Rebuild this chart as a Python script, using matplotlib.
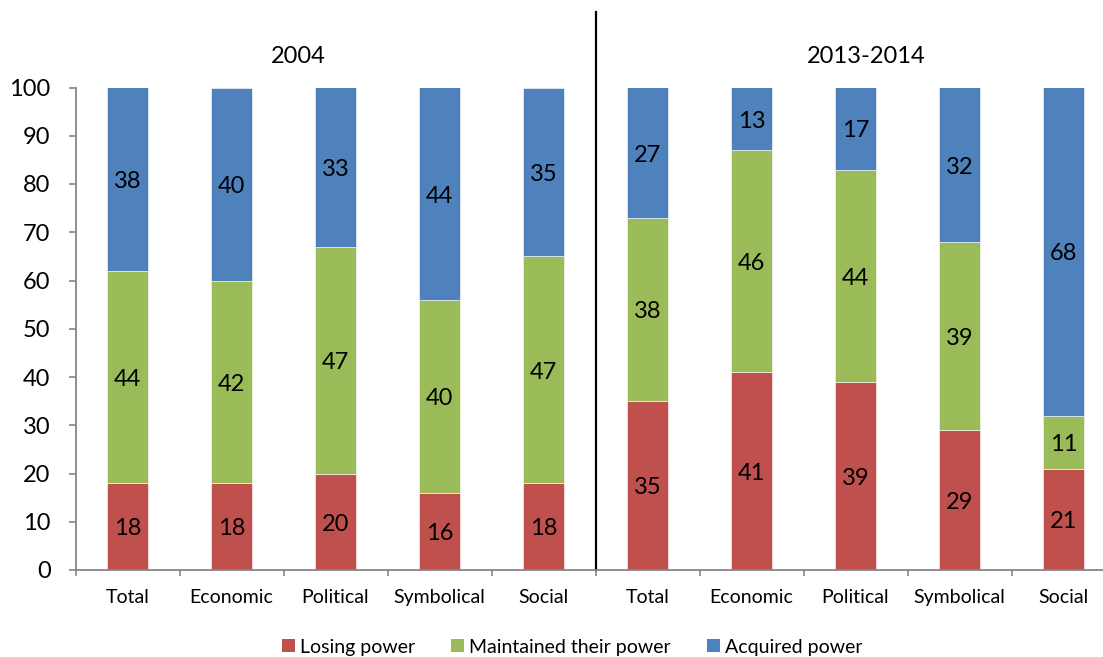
import matplotlib
matplotlib.use("Agg")
import matplotlib.pyplot as plt
from matplotlib.patches import Patch
import numpy as np

plt.rcParams['font.family'] = ['Lato', 'DejaVu Sans']

categories = ["Total", "Economic", "Political", "Symbolical", "Social",
              "Total", "Economic", "Political", "Symbolical", "Social"]
periods = ["2004", "2013-2014"]

losing = [18, 18, 20, 16, 18, 35, 41, 39, 29, 21]
maintained = [44, 42, 47, 40, 47, 38, 46, 44, 39, 11]
acquired = [38, 40, 33, 44, 35, 27, 13, 17, 32, 68]

series_names = ["Losing power", "Maintained their power", "Acquired power"]
colors = ["#C0504D", "#9BBB59", "#4F81BD"]

W, H = 1103, 657
fig = plt.figure(figsize=(W / 100, H / 100), dpi=100)
ax = fig.add_axes([75.5 / W, 1 - 570 / H, 1040 / W, 482.5 / H])

x = np.arange(len(categories))
bw = 0.395
bottom = np.zeros(len(categories))
for vals, col, name in zip([losing, maintained, acquired], colors, series_names):
    vals = np.array(vals)
    ax.bar(x, vals, bw, bottom=bottom, color=col, label=name,
           edgecolor="white", linewidth=0.4)
    for xi, b, v in zip(x, bottom, vals):
        ax.text(xi, b + v / 2 - 0.5, str(v), ha="center", va="center",
                fontsize=17, color="black")
    bottom += vals

ax.set_xlim(-0.5, len(categories) - 0.5)
ax.set_ylim(0, 100)
ax.set_yticks(np.arange(0, 101, 10))

# group boundaries carry the tick marks, category names sit on minor ticks
ax.set_xticks(np.arange(-0.5, len(categories), 1.0))
ax.set_xticklabels([])
ax.set_xticks(x, minor=True)
ax.set_xticklabels(categories, minor=True)
ax.tick_params(axis="x", which="major", length=4, width=1.2, color="#868686",
               direction="out")
ax.tick_params(axis="x", which="minor", length=0, pad=14, labelsize=14)
ax.tick_params(axis="y", length=5, width=1.2, color="#868686", pad=13,
               labelsize=17)

for s in ["top", "right"]:
    ax.spines[s].set_visible(False)
for s in ["left", "bottom"]:
    ax.spines[s].set_color("#868686")
    ax.spines[s].set_linewidth(1.3)

# divider between the two periods
ax.plot([4.5, 4.5], [0, 115.6], color="black", lw=1.6, clip_on=False)

ax.text(1.64, 106.5, periods[0], ha="center", va="center", fontsize=17)
ax.text(7.1, 106.5, periods[1], ha="center", va="center", fontsize=17)

handles = [Patch(facecolor=c, edgecolor="none") for c in colors]
fig.legend(handles, series_names, loc="center", ncol=3,
           bbox_to_anchor=(572 / W, 1 - 647 / H), frameon=False,
           fontsize=14, handlelength=0.67, handleheight=0.67,
           handletextpad=0.26, columnspacing=1.85)

fig.savefig("out.png", dpi=100)
